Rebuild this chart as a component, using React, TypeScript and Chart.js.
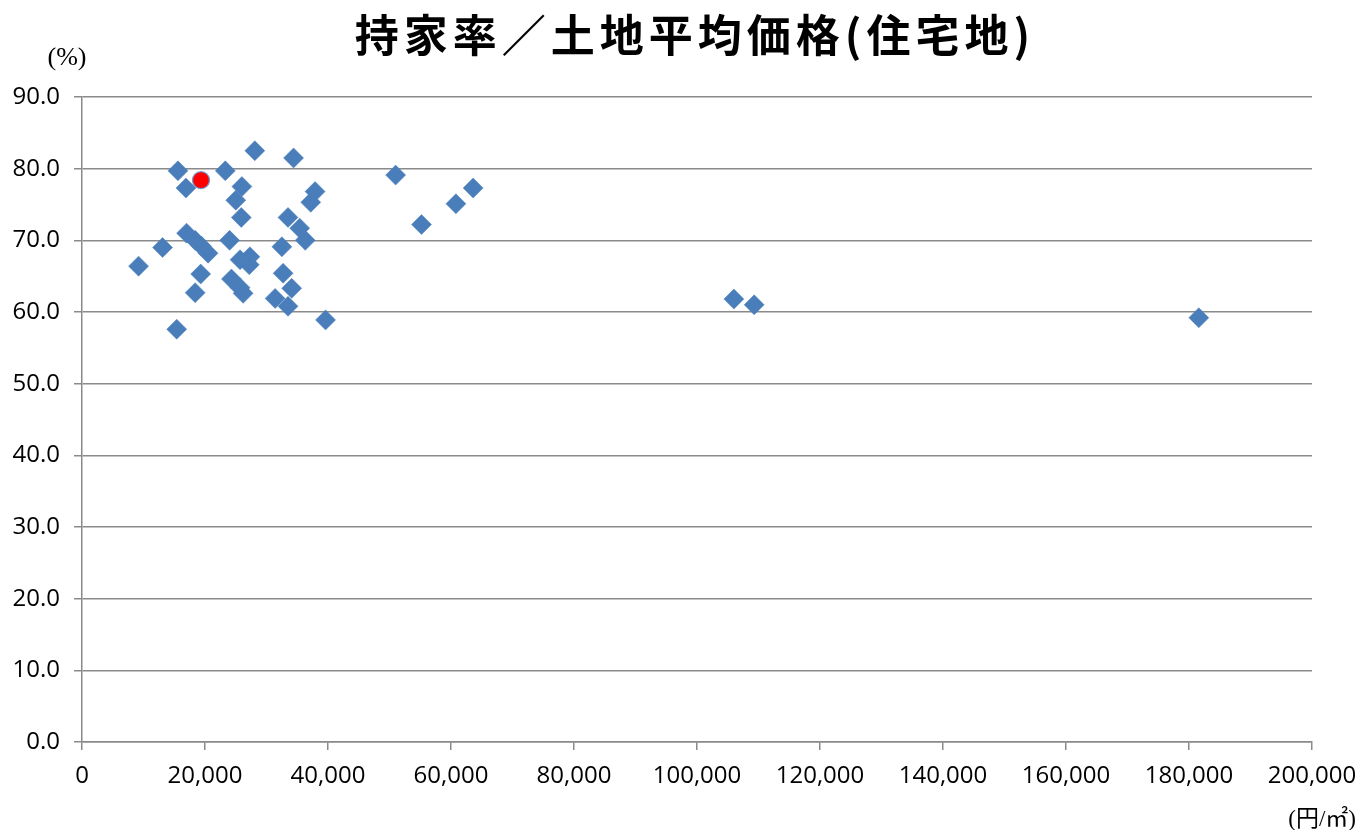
import React, { useEffect, useRef } from "react";
import { Chart, registerables } from "chart.js";

Chart.register(...registerables);

const titleText = "持家率／土地平均価格(住宅地)";
const yUnitLabel = "(%)";
const xUnitLabel = "(円/㎡)";

// Land average price (yen / m2) for each prefecture
const landPrice = [
  28100, 34400, 15600, 23300, 16900, 26000, 37900, 25000, 37200, 25900,
  33500, 35400, 17000, 18400, 19400, 20500, 36300, 24000, 13100, 32500,
  9200, 25700, 27300, 27200, 19300, 32700, 24300, 25700, 26200, 34100,
  18400, 31400, 33500, 39600, 15400, 51000, 55200, 60800, 63600, 106000,
  109300, 181600,
];
// Home ownership rate (%)
const ownershipRate = [
  82.5, 81.5, 79.7, 79.7, 77.3, 77.5, 76.8, 75.6, 75.3, 73.2,
  73.2, 71.7, 71.0, 70.0, 69.2, 68.2, 70.0, 70.0, 69.0, 69.1,
  66.4, 67.3, 67.7, 66.6, 65.3, 65.4, 64.6, 63.4, 62.6, 63.3,
  62.7, 61.9, 60.8, 58.9, 57.6, 79.1, 72.2, 75.1, 77.3, 61.8,
  61.0, 59.2,
];
// Highlighted prefecture
const highlightPrice = [19350];
const highlightRate = [78.4];

const xTicks = { min: 0, max: 200000, step: 20000 };
const yTicks = { min: 0, max: 90, step: 10 };

const labelsPlugin = {
  id: "extraLabels",
  afterDraw(chart: any) {
    const ctx = chart.ctx;
    ctx.save();
    ctx.fillStyle = "#000";
    ctx.textAlign = "center";
    ctx.textBaseline = "alphabetic";
    ctx.font = "bold 44px 'Noto Sans CJK JP'";
    try {
      (ctx as any).letterSpacing = "5px";
    } catch (e) {}
    ctx.fillText(titleText, 695, 52);
    try {
      (ctx as any).letterSpacing = "0px";
    } catch (e) {}
    ctx.font = "26px 'Liberation Serif', 'Noto Sans CJK JP'";
    ctx.fillText(yUnitLabel, 67, 65);
    ctx.font = "23px 'Liberation Serif', 'Noto Sans CJK JP'";
    ctx.textAlign = "right";
    ctx.fillText(xUnitLabel, 1356, 826);
    ctx.restore();
  },
};

export default function App() {
  const ref = useRef<HTMLCanvasElement | null>(null);
  useEffect(() => {
    if (!ref.current) return;
    const grid = "#8a8a8a";
    const tickFont = { family: "'Open Sans'", size: 24 };
    const chart = new Chart(ref.current, {
      type: "scatter",
      data: {
        datasets: [
          {
            data: landPrice.map((x, i) => ({ x, y: ownershipRate[i] })),
            pointStyle: "rectRot",
            pointRadius: 10,
            backgroundColor: "#4a7ebb",
            borderColor: "#4f81bd",
            borderWidth: 0.5,
          },
          {
            data: highlightPrice.map((x, i) => ({ x, y: highlightRate[i] })),
            pointStyle: "circle",
            pointRadius: 8.5,
            backgroundColor: "#ff0000",
            borderColor: "#6f9ad0",
            borderWidth: 1.2,
          },
        ],
      },
      options: {
        animation: false,
        responsive: true,
        maintainAspectRatio: false,
        layout: { padding: { left: 0, right: 47, top: 97, bottom: 0 } },
        plugins: { legend: { display: false }, tooltip: { enabled: false }, title: { display: false } },
        scales: {
          x: {
            type: "linear",
            min: xTicks.min,
            max: xTicks.max,
            afterFit: (s: any) => {
              s.height = 88;
              s.paddingRight = 0;
              s.paddingLeft = 0;
            },
            ticks: {
              stepSize: xTicks.step,
              color: "#000",
              font: tickFont,
              padding: 12,
              maxRotation: 0,
              callback: (v: any) => Number(v).toLocaleString("en-US"),
            },
            grid: { display: true, drawOnChartArea: false, drawTicks: true, tickLength: 8, color: grid, lineWidth: 1.5 },
            border: { display: true, color: grid, width: 1.5 },
          },
          y: {
            type: "linear",
            min: yTicks.min,
            max: yTicks.max,
            afterFit: (s: any) => {
              s.width = 82;
            },
            ticks: {
              stepSize: yTicks.step,
              color: "#000",
              font: tickFont,
              padding: 14,
              callback: (v: any) => Number(v).toFixed(1),
            },
            grid: { color: grid, lineWidth: 1.5, tickLength: 8 },
            border: { display: true, color: grid, width: 1.5 },
          },
        },
      },
      plugins: [labelsPlugin],
    });
    return () => chart.destroy();
  }, []);
  return (
    <div style={{ position: "fixed", left: 0, top: 0, width: 1359, height: 830, background: "#fff" }}>
      <canvas ref={ref} />
    </div>
  );
}
